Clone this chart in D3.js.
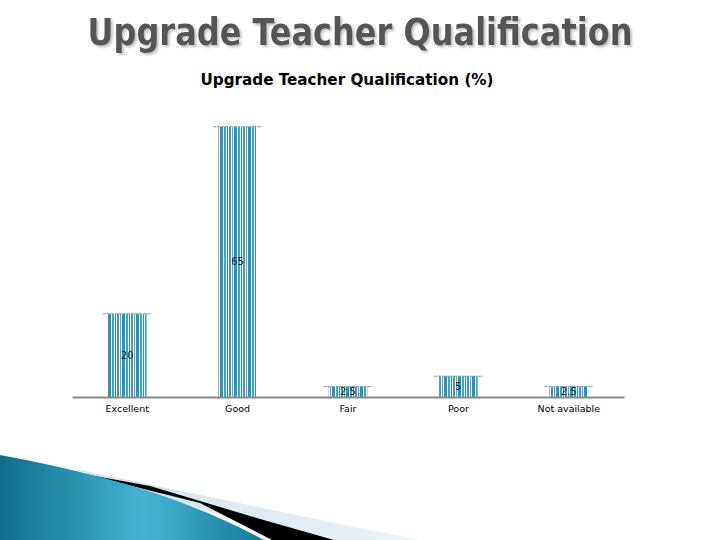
<!DOCTYPE html>
<html><head><meta charset="utf-8">
<script src="https://cdn.jsdelivr.net/npm/d3@7"></script>
<style>html,body{margin:0;padding:0;background:#fff;}svg{display:block;}</style>
</head><body>
<script>
const categories = ["Excellent", "Good", "Fair", "Poor", "Not available"];
const values = [20, 65, 2.5, 5, 2.5];
const valueLabels = ["20", "65", "2.5", "5", "2.5"];
const mainTitle = "Upgrade Teacher Qualification";
const chartTitle = "Upgrade Teacher Qualification (%)";

const W = 720, H = 540;
const svg = d3.select("body").append("svg").attr("width", W).attr("height", H);
const defs = svg.append("defs");

// stripe pattern for bars
const pat = defs.append("pattern").attr("id", "stripes").attr("patternUnits", "userSpaceOnUse")
  .attr("width", 14).attr("height", 10);
pat.append("rect").attr("width", 14).attr("height", 10).attr("fill", "#ffffff");
const stripes = [[0,2,"#3ea8c2"],[3,1,"#2a93ac"],[5,2,"#3a9fb8"],[8,1,"#46b0c8"],[10,3,"#2f93ad"]];
stripes.forEach(s => pat.append("rect").attr("x", s[0]).attr("width", s[1]).attr("height", 10).attr("fill", s[2]));

// title shadow
const f = defs.append("filter").attr("id", "shadow").attr("x", "-5%").attr("y", "-20%").attr("width", "110%").attr("height", "140%");
f.append("feDropShadow").attr("dx", 2).attr("dy", 2).attr("stdDeviation", 0.8).attr("flood-color", "#bbbbbb").attr("flood-opacity", 0.9);

// swoosh gradient
const g1 = defs.append("linearGradient").attr("id", "swoosh").attr("x1", "0").attr("x2", "1").attr("y1", "0").attr("y2", "0");
g1.append("stop").attr("offset", "0").attr("stop-color", "#0f6e8c");
g1.append("stop").attr("offset", "0.55").attr("stop-color", "#47b3d4");
g1.append("stop").attr("offset", "1").attr("stop-color", "#137a98");
const g2 = defs.append("linearGradient").attr("id", "pale").attr("x1", "0").attr("x2", "1");
g2.append("stop").attr("offset", "0").attr("stop-color", "#cfe1e9");
g2.append("stop").attr("offset", "1").attr("stop-color", "#edf4f7");

// decoration bottom-left
svg.append("path").attr("d", "M70,468 L340,524 L420,540 L300,540 Z").attr("fill", "url(#pale)");
svg.append("path").attr("d", "M40,466 L150,486 L250,516 L334,540 L272,540 L200,503 L100,478 Z").attr("fill", "#000");
svg.append("path").attr("d", "M0,455 Q50,464 100,477 Q190,500 264,540 L0,540 Z").attr("fill", "url(#swoosh)");

// titles
svg.append("text").attr("x", 360).attr("y", 45).attr("text-anchor", "middle")
  .attr("font-family", "DejaVu Sans Condensed").attr("font-weight", "bold").attr("font-size", 37).attr("fill", "#555555")
  .attr("textLength", 545).attr("lengthAdjust", "spacingAndGlyphs").attr("filter", "url(#shadow)").text(mainTitle);
svg.append("text").attr("x", 347).attr("y", 85).attr("text-anchor", "middle")
  .attr("font-family", "DejaVu Sans Condensed").attr("font-weight", "bold").attr("font-size", 16).attr("fill", "#000")
  .attr("textLength", 293).attr("lengthAdjust", "spacingAndGlyphs").text(chartTitle);

// scales
const x = d3.scaleBand().domain(categories).range([72, 624]).paddingInner(0.65).paddingOuter(0.325);
const y = d3.scaleLinear().domain([0, 70]).range([397, 106]);

const bars = svg.append("g");
bars.selectAll("rect").data(categories).join("rect")
  .attr("x", d => x(d))
  .attr("y", (d, i) => y(values[i]))
  .attr("width", x.bandwidth())
  .attr("height", (d, i) => y(0) - y(values[i]))
  .attr("fill", "url(#stripes)");
bars.selectAll("line").data(categories).join("line")
  .attr("x1", d => x(d) - 5).attr("x2", d => x(d) + x.bandwidth() + 5)
  .attr("y1", (d, i) => y(values[i])).attr("y2", (d, i) => y(values[i]))
  .attr("stroke", "#6f9aa6").attr("stroke-width", 1).attr("stroke-dasharray", "3,1");

// value labels centered in bars
svg.append("g").selectAll("text").data(categories).join("text")
  .attr("x", d => x(d) + x.bandwidth() / 2)
  .attr("y", (d, i) => (y(values[i]) + y(0)) / 2 + 3.5)
  .attr("text-anchor", "middle").attr("font-family", "DejaVu Sans").attr("font-size", 10)
  .attr("fill", "#1b2733").text((d, i) => valueLabels[i]);

// axis
const ax = svg.append("g").attr("transform", "translate(0,397)")
  .call(d3.axisBottom(x).tickSize(0).tickPadding(8).tickSizeOuter(0));
ax.select(".domain").attr("stroke", "#888888").attr("stroke-width", 2);
ax.selectAll("text").attr("font-family", "DejaVu Sans").attr("font-size", 9.5).attr("fill", "#000");
</script>
</body></html>
